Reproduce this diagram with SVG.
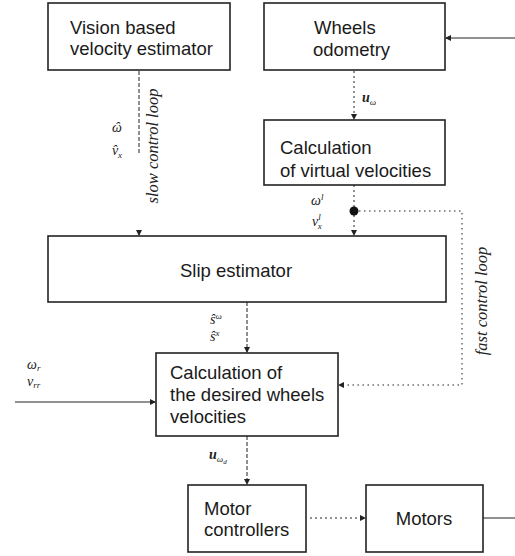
<svg xmlns="http://www.w3.org/2000/svg" width="515" height="556" viewBox="0 0 515 556">
<defs>
<marker id="ah" markerWidth="6" markerHeight="6" refX="5" refY="3" orient="auto" markerUnits="userSpaceOnUse">
<path d="M0,0 L6,3 L0,6 Z" fill="#222"/>
</marker>
</defs>
<style>
.box{fill:#fff;stroke:#222;stroke-width:1.6}
.t{font-family:"Liberation Sans",Arial,sans-serif;font-size:18.5px;fill:#1a1a1a}
.m{font-family:"Liberation Serif","Times New Roman",serif;font-style:italic;font-size:14px;fill:#222}
.mb{font-weight:bold}
.sub{font-size:9px}
.rot{font-family:"Liberation Serif","Times New Roman",serif;font-style:italic;font-size:16.5px;fill:#222}
.ln{fill:none;stroke:#222;stroke-width:1}
.dash{stroke-dasharray:4,2}
.dot{stroke-dasharray:2,3}
.dd{stroke-dasharray:1.5,3.5}
</style>
<rect width="515" height="556" fill="#fff"/>
<g id="connectors">
<line class="ln" x1="515" y1="38" x2="446" y2="38" marker-end="url(#ah)"/>
<line class="ln dash" x1="139" y1="71" x2="139" y2="155"/>
<line class="ln" x1="139" y1="231" x2="139" y2="235" marker-end="url(#ah)"/>
<line class="ln dot" x1="354" y1="71" x2="354" y2="119" marker-end="url(#ah)"/>
<line class="ln dot" x1="354" y1="185" x2="354" y2="235" marker-end="url(#ah)"/>
<circle cx="354" cy="211" r="4.5" fill="#111"/>
<polyline class="ln dd" points="354,211 462,211 462,385 339,385" marker-end="url(#ah)"/>
<line class="ln dash" x1="247" y1="302" x2="247" y2="352" marker-end="url(#ah)"/>
<line class="ln" x1="15" y1="402" x2="155" y2="402" marker-end="url(#ah)"/>
<line class="ln dash" x1="247" y1="436" x2="247" y2="484" marker-end="url(#ah)"/>
<line class="ln dot" x1="310" y1="518" x2="365" y2="518" marker-end="url(#ah)"/>
<line class="ln" x1="483" y1="518" x2="515" y2="518"/>
</g>
<g id="vision">
<rect class="box" x="48" y="3" width="182" height="67"/>
<text class="t" x="70" y="34">Vision based</text>
<text class="t" x="70" y="55">velocity estimator</text>
</g>
<g id="odometry">
<rect class="box" x="264" y="3" width="181" height="67"/>
<text class="t" x="314" y="34">Wheels</text>
<text class="t" x="313" y="56">odometry</text>
</g>
<g id="virtual">
<rect class="box" x="264" y="120" width="181" height="65"/>
<text class="t" x="280" y="154">Calculation</text>
<text class="t" x="280" y="177">of virtual velocities</text>
</g>
<g id="slip">
<rect class="box" x="48" y="236" width="398" height="66"/>
<text class="t" x="180" y="277">Slip estimator</text>
</g>
<g id="desired">
<rect class="box" x="156" y="353" width="182" height="83"/>
<text class="t" x="170" y="379">Calculation of</text>
<text class="t" x="170" y="401">the desired wheels</text>
<text class="t" x="170" y="423">velocities</text>
</g>
<g id="motorctrl">
<rect class="box" x="188" y="485" width="118" height="67"/>
<text class="t" x="204" y="515">Motor</text>
<text class="t" x="204" y="536">controllers</text>
</g>
<g id="motors">
<rect class="box" x="366" y="485" width="117" height="67"/>
<text class="t" x="424" y="525" text-anchor="middle">Motors</text>
</g>
<g id="labels">
<text class="m" x="112" y="132">ω<tspan dx="-7">ˆ</tspan></text>
<text class="m" x="112" y="155">v<tspan dx="-6">ˆ</tspan><tspan class="sub" dx="1" dy="3">x</tspan></text>
<text class="rot" transform="translate(158,146) rotate(-90)" text-anchor="middle">slow control loop</text>
<text class="m" x="362" y="102"><tspan class="mb">u</tspan><tspan class="sub" dy="3">ω</tspan></text>
<text class="m" x="311" y="205">ω<tspan class="sub" dy="-5">l</tspan></text>
<text class="m" x="312" y="226">v<tspan class="sub" dy="-6">l</tspan><tspan class="sub" dx="-3" dy="9">x</tspan></text>
<text class="rot" transform="translate(487,301) rotate(-90)" text-anchor="middle">fast control loop</text>
<text class="m" x="210" y="324">ŝ<tspan class="sub" dy="-5">ω</tspan></text>
<text class="m" x="210" y="341">ŝ<tspan class="sub" dy="-5">x</tspan></text>
<text class="m" x="27" y="369">ω<tspan class="sub" dy="2">r</tspan></text>
<text class="m" x="27" y="386">v<tspan class="sub" dy="2">rr</tspan></text>
<text class="m" x="209" y="459"><tspan class="mb">u</tspan><tspan class="sub" dy="3">ω<tspan dy="2" style="font-size:7px">d</tspan></tspan></text>
</g>
</svg>
